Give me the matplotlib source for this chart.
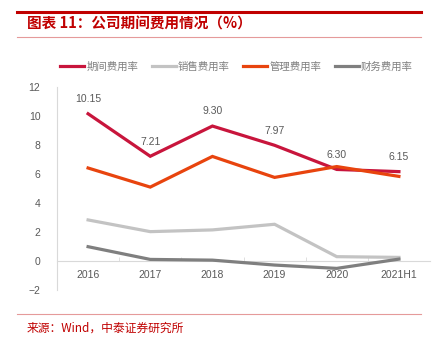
import matplotlib
matplotlib.use('Agg')
import matplotlib.pyplot as plt
from matplotlib.lines import Line2D

plt.rcParams['font.family'] = ['Liberation Sans', 'Noto Sans CJK SC', 'DejaVu Sans']

years = ['2016', '2017', '2018', '2019', '2020', '2021H1']
period_rate = [10.15, 7.21, 9.30, 7.97, 6.30, 6.15]
sales_rate = [2.81, 2.00, 2.12, 2.51, 0.27, 0.22]
admin_rate = [6.40, 5.08, 7.20, 5.75, 6.50, 5.82]
finance_rate = [0.96, 0.08, 0.03, -0.31, -0.54, 0.10]
names = ['期间费用率', '销售费用率', '管理费用率', '财务费用率']
colors = ['#C8153C', '#C3C3C3', '#E8440E', '#7F7F7F']

fig = plt.figure(figsize=(4.34, 3.46), dpi=100)
ax = fig.add_axes([57 / 434, 1 - 289.5 / 346, 373 / 434, 202.5 / 346])

x = list(range(len(years)))
series = [period_rate, sales_rate, admin_rate, finance_rate]
# draw in the same stacking order as the original
order = [1, 3, 2, 0]
for i in order:
    ax.plot(x, series[i], color=colors[i], lw=2.3, solid_joinstyle='miter', zorder=3 + i)

for xi, v in zip(x, period_rate):
    ax.annotate(f'{v:.2f}', (xi, v), xytext=(0, 7), textcoords='offset points',
                ha='center', va='bottom', fontsize=7.5, color='#595959')

ax.set_xlim(-0.5, 5.5)
ax.set_ylim(-2, 12)
ax.set_yticks(range(-2, 13, 2))
ax.set_xticks(x)
ax.set_xticklabels(years)
ax.set_xticks([0.5, 1.5, 2.5, 3.5, 4.5], minor=True)

for s in ['top', 'right']:
    ax.spines[s].set_visible(False)
ax.spines['left'].set_color('#D9D9D9')
ax.spines['bottom'].set_color('#D9D9D9')
ax.spines['bottom'].set_position(('data', 0))
ax.tick_params(axis='y', length=0, labelsize=7.5, labelcolor='#595959', pad=12)
ax.tick_params(axis='x', which='major', length=0, labelsize=7.5, labelcolor='#595959', pad=7)
ax.tick_params(axis='x', which='minor', length=3, direction='in', color='#D9D9D9')

handles = [Line2D([], [], color=c, lw=2.3) for c in colors]
fig.legend(handles, names, loc='center', bbox_to_anchor=(0.545, 1 - 67 / 346), ncol=4,
           frameon=False, handlelength=2.3, handletextpad=0.2, columnspacing=1.3,
           prop={'family': 'Noto Sans CJK SC', 'size': 7.5}, labelcolor='#808080')

# header / footer decorations
fig.add_artist(Line2D([17 / 434, 421 / 434], [1 - 11.5 / 346] * 2, color='#C00000', lw=2.2))
fig.add_artist(Line2D([17 / 434, 421 / 434], [1 - 37 / 346] * 2, color='#E59A9A', lw=0.8))
fig.add_artist(Line2D([17 / 434, 421 / 434], [1 - 314 / 346] * 2, color='#E59A9A', lw=0.8))
fig.text(27 / 434, 1 - 24 / 346, '图表 11：公司期间费用情况（%）', color='#C00000',
         fontsize=10.5, fontweight='bold', style='italic', va='center',
         family=['Noto Sans CJK SC', 'DejaVu Sans'])
fig.text(27 / 434, 1 - 328 / 346, '来源：Wind，中泰证券研究所', color='#C00000',
         fontsize=8.5, va='center', family=['Noto Sans CJK SC', 'DejaVu Sans'])

fig.savefig('out.png', dpi=100)
